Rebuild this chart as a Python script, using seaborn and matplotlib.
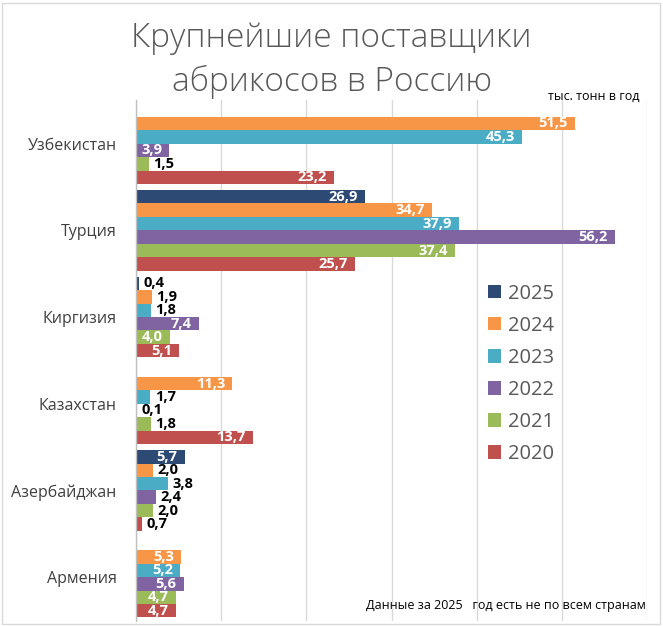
import numpy as np
import pandas as pd
import matplotlib
matplotlib.use("Agg")
import matplotlib.pyplot as plt
from matplotlib.patches import Rectangle
import seaborn as sns

# ---- data ----
countries = ["Узбекистан", "Турция", "Киргизия", "Казахстан", "Азербайджан", "Армения"]
years = ["2025", "2024", "2023", "2022", "2021", "2020"]
v2025 = [None, 26.9, 0.4, None, 5.7, None]
v2024 = [51.5, 34.7, 1.9, 11.3, 2.0, 5.3]
v2023 = [45.3, 37.9, 1.8, 1.7, 3.8, 5.2]
v2022 = [3.9, 56.2, 7.4, 0.1, 2.4, 5.6]
v2021 = [1.5, 37.4, 4.0, 1.8, 2.0, 4.7]
v2020 = [23.2, 25.7, 5.1, 13.7, 0.7, 4.7]
colors = ["#2C4A74", "#F79646", "#4BACC6", "#8064A2", "#9BBB59", "#C0504D"]

title_lines = ["Крупнейшие поставщики", "абрикосов в Россию"]
unit_label = "тыс. тонн в год"
footnote = "Данные за 2025   год есть не по всем странам"

series = dict(zip(years, [v2025, v2024, v2023, v2022, v2021, v2020]))
rows = []
for y in years:
    for c, v in zip(countries, series[y]):
        if v is not None:
            rows.append({"country": c, "year": y, "value": v})
df = pd.DataFrame(rows)

# ---- figure ----
sns.set_theme(style="white")
plt.rcParams["font.family"] = ["Open Sans", "DejaVu Sans"]

fig = plt.figure(figsize=(6.63, 6.26), dpi=100)
ax = fig.add_axes([136 / 663, 1 - 620.5 / 626, (647 - 136) / 663, (620.5 - 100.3) / 626])

sns.barplot(data=df, y="country", x="value", hue="year", order=countries,
            hue_order=years, palette=colors, orient="h", width=0.93, gap=0,
            saturation=1, ax=ax, errorbar=None, legend=True,
            linewidth=0, edgecolor="none")

ax.set_xlim(0, 60)
ax.set_xticks(np.arange(0, 61, 10))
ax.set_xticklabels([])
ax.tick_params(axis="x", length=0)
ax.tick_params(axis="y", length=0, pad=14, labelsize=11.5, labelcolor="#404040")
ax.grid(axis="x", color="#D9D9D9", linewidth=1)
ax.set_axisbelow(True)
ax.set_xlabel("")
ax.set_ylabel("")
for s in ["top", "right", "bottom"]:
    ax.spines[s].set_visible(False)
ax.spines["left"].set_color("#BFBFBF")
ax.spines["left"].set_linewidth(1)

# ---- value labels ----
for cont, yr in zip(ax.containers, years):
    for patch in cont.patches:
        w = patch.get_width()
        if w is None or np.isnan(w):
            continue
        yc = patch.get_y() + patch.get_height() / 2
        txt = f"{w:.1f}".replace(".", ",")
        if w > 3.85:
            ax.annotate(txt, (w, yc), xytext=(-5, 0), textcoords="offset points",
                        ha="right", va="center", color="white",
                        fontsize=10.5, fontweight="bold")
        else:
            ax.annotate(txt, (w, yc), xytext=(3, 0), textcoords="offset points",
                        ha="left", va="center", color="black",
                        fontsize=10.5, fontweight="bold")

# ---- legend ----
handles, labels = ax.get_legend_handles_labels()
ax.legend(handles, labels, loc="center left", bbox_to_anchor=(0.689, 0.474),
          frameon=False, fontsize=14.5, handlelength=0.65, handleheight=0.65,
          handletextpad=0.35, labelspacing=0.6, borderpad=0, borderaxespad=0,
          labelcolor="#595959")

# ---- texts ----
fig.text(0.5, 1 - 46.7 / 626, title_lines[0], ha="center", va="baseline",
         fontsize=24, color="#595959", fontweight="light")
fig.text(0.5, 1 - 90.7 / 626, title_lines[1], ha="center", va="baseline",
         fontsize=24, color="#595959", fontweight="light")
fig.text(639 / 663, 1 - 96 / 626, unit_label, ha="right", va="center",
         fontsize=9, color="black")
fig.text(646 / 663, 1 - 606 / 626, footnote, ha="right", va="center",
         fontsize=9, color="black")

fig.patches.append(Rectangle((2 / 663, 2 / 626), 658 / 663, 621 / 626,
                             transform=fig.transFigure, fill=False,
                             edgecolor="#D9D9D9", linewidth=1))

fig.savefig("out.png", dpi=100)
